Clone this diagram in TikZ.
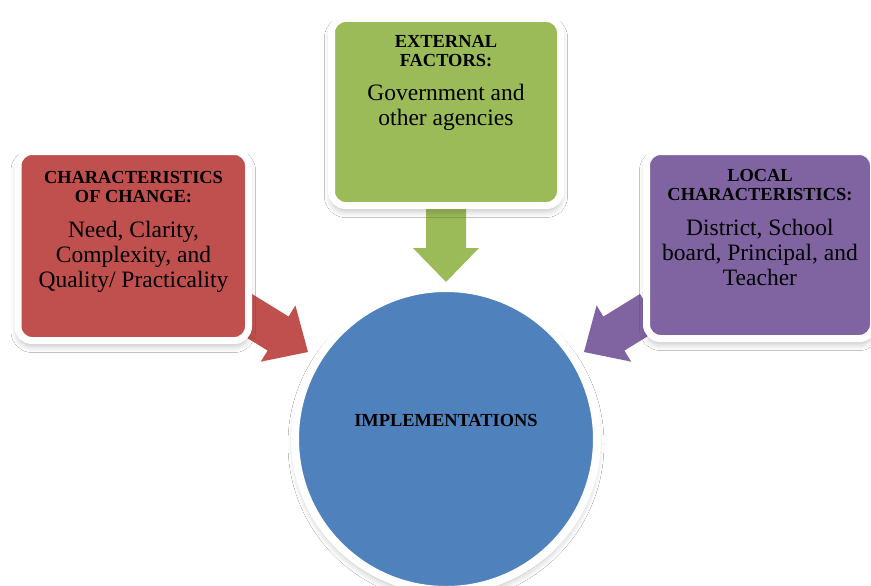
\documentclass[tikz,border=0pt]{standalone}
\usepackage{fontspec}
\setmainfont{Liberation Serif}
\usetikzlibrary{calc,shadows.blur}

\definecolor{accred}{HTML}{C0504D}
\definecolor{accgreen}{HTML}{9BBB59}
\definecolor{accpurple}{HTML}{8064A2}
\definecolor{accblue}{HTML}{4F81BD}

\tikzset{
  softshadow/.style={blur shadow={shadow xshift=0pt, shadow yshift=-5pt,
      shadow blur radius=7pt, shadow opacity=28}},
  panel/.style={rectangle, rounded corners=14pt, draw=white, line width=7pt,
      inner sep=0pt, softshadow},
  hub/.style={circle, draw=white, line width=8pt, inner sep=0pt,
      fill=accblue, softshadow},
  heading/.style={anchor=north, inner sep=0pt, align=center,
      font=\fontsize{18.4}{19.5}\selectfont\bfseries},
  bodytext/.style={anchor=north, inner sep=0pt, align=center,
      font=\fontsize{23.5}{25}\selectfont},
}

% block arrow from #1 to #2 in colour #3 (shaft 40, head 66 wide)
\newcommand\blockarrow[3]{%
  \coordinate (#1-h) at ($(#1)!43pt!(#2)$);
  \fill[#3] ($(#1)!20pt!90:(#2)$) -- ($(#1-h)!20pt!90:(#2)$)
    -- ($(#1-h)!33pt!90:(#2)$) -- (#2)
    -- ($(#1-h)!33pt!-90:(#2)$) -- ($(#1-h)!20pt!-90:(#2)$)
    -- ($(#1)!20pt!-90:(#2)$) -- cycle;
}

\begin{document}
\begin{tikzpicture}[x=1pt,y=-1pt]
\useasboundingbox (0,0) rectangle (871,586);
\fill[white] (0,0) rectangle (871,586);
\clip (0,0) rectangle (871,586);

% arrow ends
\coordinate (ga) at (446,205);
\coordinate (gt) at (446,282);
\coordinate (ra) at (241.5,311);
\coordinate (rt) at (308,352);
\coordinate (la) at (650.5,311);
\coordinate (lt) at (584,352);

\blockarrow{ga}{gt}{accgreen}
\blockarrow{ra}{rt}{accred}
\blockarrow{la}{lt}{accpurple}

% panels
\node[panel, fill=accred, minimum width=230.5pt, minimum height=189pt]
  (change) at (133.25,246) {};
\node[panel, fill=accgreen, minimum width=229pt, minimum height=187pt]
  (external) at (446,112) {};
\node[panel, fill=accpurple, minimum width=227pt, minimum height=187pt]
  (local) at (760,245) {};

% central circle
\node[hub, minimum size=302pt] (impl) at (446,439) {};

% texts
\node[heading] (changeT) at (133.5,171) {CHARACTERISTICS\\OF CHANGE:};
\node[bodytext] (changeB) at (133.5,221) {Need, Clarity,\\Complexity, and\\Quality/ Practicality};

\node[heading] (externalT) at (446,35) {EXTERNAL\\FACTORS:};
\node[bodytext] (externalB) at (446,84) {Government and\\other agencies};

\node[heading] (localT) at (760,169) {LOCAL\\CHARACTERISTICS:};
\node[bodytext] (localB) at (760,219) {District, School\\board, Principal, and\\Teacher};

\node[inner sep=0pt, font=\fontsize{18.4}{19.5}\selectfont\bfseries]
  (implT) at (446,420) {IMPLEMENTATIONS};
\end{tikzpicture}
\end{document}
